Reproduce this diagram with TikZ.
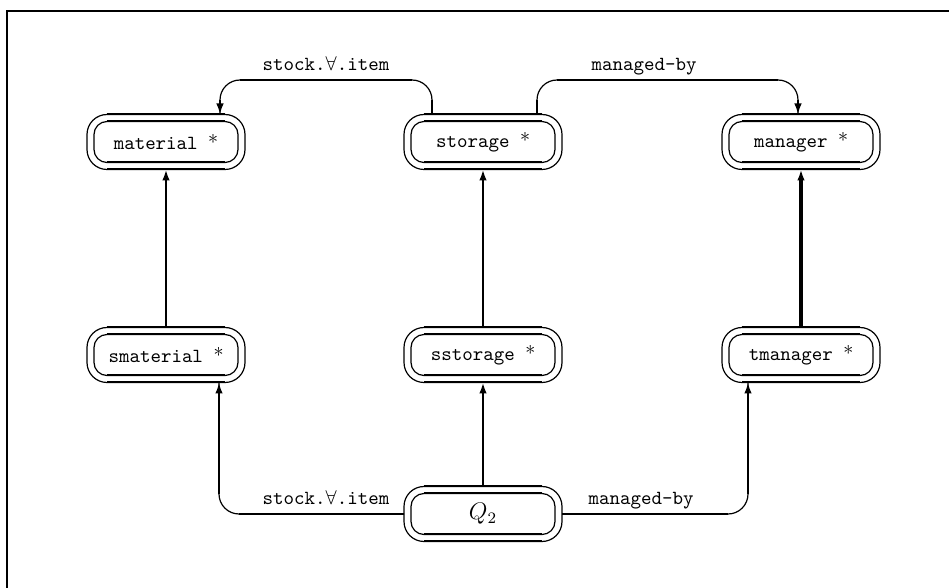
\documentclass[tikz,border=0pt]{standalone}
\usetikzlibrary{arrows.meta,calc}

\tikzset{
  objbox/.style={minimum width=79pt, minimum height=27.5pt, inner sep=0pt,
                 outer sep=0pt, font=\ttfamily},
  boxline/.style={line width=0.6pt},
  boxedge/.style={line width=1pt},
  link/.style={line width=1.45pt},
  bendline/.style={line width=0.6pt, rounded corners=10pt},
  tip/.style={-{Latex[length=5.5pt,width=3.8pt]}},
  lab/.style={font=\ttfamily, anchor=base, inner sep=0pt},
  frameline/.style={line width=1.3pt},
}

% raised asterisk after a class name
\newcommand\clstar{~{\rmfamily *}}

% double rounded box: #1 name, #2 position, #3 text
\newcommand\dblbox[3]{%
  \node[objbox] (#1) at (#2) {#3};
  \draw[boxline, rounded corners=10pt] (#1.south west) rectangle (#1.north east);
  \draw[boxline, rounded corners=6.5pt]
    ($(#1.south west)+(7,-7)$) rectangle ($(#1.north east)+(-7,7)$);
  \draw[boxedge] ($(#1.north west)+(20,0)$) -- ($(#1.north east)+(-20,0)$);
  \draw[boxedge] ($(#1.north west)+(20,7)$) -- ($(#1.north east)+(-20,7)$);
  \draw[boxedge] ($(#1.south west)+(20,0)$) -- ($(#1.south east)+(-20,0)$);
  \draw[boxedge] ($(#1.south west)+(20,-7)$) -- ($(#1.south east)+(-20,-7)$);
}

\begin{document}
\begin{tikzpicture}[x=0.5pt, y=-0.5pt]
  \useasboundingbox (0,0) rectangle (949,588);

  % frame
  \draw[frameline] (7,588) -- (7,11) -- (949,11);

  % classes
  \dblbox{material}{166,142}{material\clstar}
  \dblbox{storage}{483,142}{storage\clstar}
  \dblbox{manager}{801,142}{manager\clstar}
  \dblbox{smaterial}{166,355}{smaterial\clstar}
  \dblbox{sstorage}{483,355}{sstorage\clstar}
  \dblbox{tmanager}{801,355}{tmanager\clstar}
  \dblbox{Q2}{483,514}{\rmfamily\large $Q_2$}

  % specialisation links
  \draw[link,tip] (smaterial) -- (material);
  \draw[link,tip] (sstorage) -- (storage);
  \draw[link,tip,line width=1.8pt] (tmanager) -- (manager);
  \draw[link,tip] (Q2) -- (sstorage);

  % Q2 -> smaterial
  \coordinate (smatIn) at ($(smaterial.south)+(53,0)$);
  \coordinate (cBL) at (smatIn |- Q2.west);
  \draw[bendline] (Q2.west) -- (cBL) -- (smatIn);
  \draw[link] (Q2.west) -- ($(cBL)+(20,0)$);
  \draw[link,tip] ($(cBL)+(0,-20)$) -- (smatIn);

  % Q2 -> tmanager
  \coordinate (tmanIn) at ($(tmanager.south)+(-53,0)$);
  \coordinate (cBR) at (tmanIn |- Q2.east);
  \draw[bendline] (Q2.east) -- (cBR) -- (tmanIn);
  \draw[link] (Q2.east) -- ($(cBR)+(-20,0)$);
  \draw[link,tip] ($(cBR)+(0,-20)$) -- (tmanIn);

  % level of the upper routes
  \coordinate (topLevel) at (0,80);

  % storage -> material
  \coordinate (stOutL) at ($(storage.north)+(-51,0)$);
  \coordinate (matIn) at ($(material.north)+(54,0)$);
  \coordinate (cT1) at (stOutL |- topLevel);
  \coordinate (cT2) at (matIn |- topLevel);
  \draw[bendline] (stOutL) -- (cT1) -- (cT2) -- (matIn);
  \draw[link] (stOutL) -- ($(cT1)+(0,20)$);
  \draw[link] ($(cT1)+(-20,0)$) -- ($(cT2)+(20,0)$);
  \draw[link,tip] ($(cT2)+(0,20)$) -- (matIn);

  % storage -> manager
  \coordinate (stOutR) at ($(storage.north)+(54,0)$);
  \coordinate (manIn) at ($(manager.north)+(-3,0)$);
  \coordinate (cT3) at (stOutR |- topLevel);
  \coordinate (cT4) at (manIn |- topLevel);
  \draw[bendline] (stOutR) -- (cT3) -- (cT4) -- (manIn);
  \draw[link] (stOutR) -- ($(cT3)+(0,20)$);
  \draw[link] ($(cT3)+(20,0)$) -- ($(cT4)+(-20,0)$);
  \draw[link,tip] ($(cT4)+(0,20)$) -- (manIn);

  % role labels
  \node[lab] (labTL) at (326,71) {stock.$\forall$.item};
  \node[lab] (labTR) at (644,71) {managed-by};
  \node[lab] (labBL) at (326,505) {stock.$\forall$.item};
  \node[lab] (labBR) at (641,505) {managed-by};
\end{tikzpicture}
\end{document}
